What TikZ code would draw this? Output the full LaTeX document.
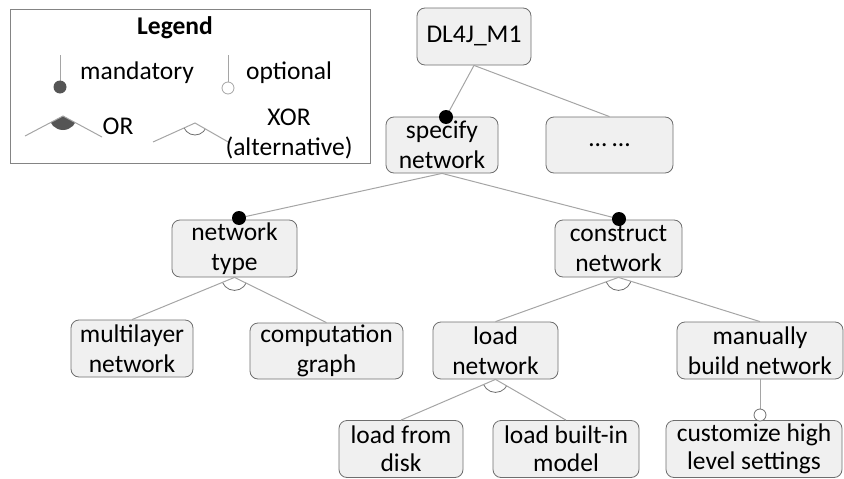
\documentclass[tikz,border=0pt]{standalone}
\usepackage{fontspec}
\setmainfont{Carlito}
\usetikzlibrary{calc}
\definecolor{boxline}{RGB}{110,110,110}
\definecolor{boxfill}{RGB}{240,240,240}
\definecolor{lineg}{RGB}{165,165,165}
\definecolor{legdark}{RGB}{85,85,85}
\definecolor{arcg}{RGB}{110,110,110}
\begin{document}
\begin{tikzpicture}[x=1pt,y=-1pt,
  fbox/.style={draw=boxline, line width=0.8pt, fill=boxfill, rounded corners=8pt, align=center,
    inner sep=0pt, minimum height=57pt, font=\fontsize{25.5}{30.5}\selectfont},
  lowbox/.style={fbox, font=\fontsize{25.5}{28}\selectfont},
  conn/.style={draw=lineg, line width=1pt},
  lgtext/.style={font=\fontsize{25.5}{30.5}\selectfont, inner sep=0pt, align=center},
  mand/.style={fill=black},
  xorarc/.style={draw=arcg, line width=0.8pt}]
\useasboundingbox (0,0) rectangle (844,479);

% ---------- Legend ----------
\draw[draw=lineg!80!black, line width=1pt] (10,9) rectangle (370,163);
\node[lgtext, font=\fontsize{25.5}{30.5}\selectfont\bfseries] (lgtitle) at (175,28) {Legend};
\coordinate (m1) at (60,55); \coordinate (m2) at (60,87);
\draw[conn] (m1) -- (m2);
\fill[legdark] (m2) circle (6.5pt);
\node[lgtext, anchor=west] (lgmand) at (80,73) {mandatory};
\coordinate (o1) at (228,55); \coordinate (o2) at (228,88);
\draw[conn] (o1) -- (o2);
\draw[draw=lineg, fill=white, line width=0.8pt] (o2) circle (6pt);
\node[lgtext, anchor=west] (lgopt) at (246,73) {optional};
% OR
\coordinate (ora) at (63,116); \coordinate (orl) at (25,136); \coordinate (orr) at (102,137);
\begin{scope}
  \clip (ora) -- (orl) -- (orr) -- cycle;
  \fill[legdark] (ora) circle (14pt);
\end{scope}
\draw[conn] (orl) -- (ora) -- (orr);
\node[lgtext] (lgor) at (118,126) {OR};
% XOR
\coordinate (xa) at (195,123); \coordinate (xl) at (153,142); \coordinate (xr) at (230,143);
\begin{scope}
  \clip (xa) -- (xl) -- (xr) -- cycle;
  \draw[xorarc] (xa) circle (12pt);
\end{scope}
\draw[conn] (xl) -- (xa) -- (xr);
\node[lgtext] (lgxor) at (289,134) {XOR\\(alternative)};

% ---------- Nodes ----------
\node[fbox, minimum width=114pt] (dl) at (474,36.5) {DL4J\_M1};
\node[fbox, minimum width=112pt, minimum height=56pt] (spec) at (442,145) {specify\\network};
\node[fbox, minimum width=127pt, minimum height=56pt] (dots) at (609.5,145) {… …};
\node[fbox, minimum width=125pt] (ntype) at (234.5,248.5) {network\\type};
\node[fbox, minimum width=127pt] (cons) at (618.5,248.5) {construct\\network};
\node[fbox, minimum width=122pt] (multi) at (132,348.5) {multilayer\\network};
\node[fbox, minimum width=153pt, minimum height=56pt] (comp) at (326.5,351) {computation\\graph};
\node[fbox, minimum width=125pt] (loadn) at (495.5,350.5) {load\\network};
\node[fbox, minimum width=166pt] (manu) at (760,350.5) {manually\\build network};
\node[lowbox, minimum width=124pt] (disk) at (401,449) {load from\\disk};
\node[lowbox, minimum width=146pt] (builtin) at (566,449) {load built-in\\model};
\node[lowbox, minimum width=176pt] (cust) at (754,449) {customize high\\level settings};

% ---------- Connectors ----------
\coordinate (dspec) at (446,117);
\coordinate (dntype) at (239,218);
\coordinate (dcons) at (619,219);
\draw[conn] (dl.south) -- (dspec);
\draw[conn] (dl.south) -- (dots.north);
\fill[mand] (dspec) circle (7pt);

\draw[conn] (spec.south) -- (dntype);
\draw[conn] (spec.south) -- (dcons);
\fill[mand] (dntype) circle (7pt);
\fill[mand] (dcons) circle (7pt);

% XOR groups
\foreach \p/\a/\b in {ntype/multi/comp, cons/loadn/manu, loadn/disk/builtin}{
  \begin{scope}
    \clip (\p.south) -- (\a.north) -- (\b.north) -- cycle;
    \draw[xorarc] (\p.south) circle (13pt);
  \end{scope}
  \draw[conn] (\p.south) -- (\a.north);
  \draw[conn] (\p.south) -- (\b.north);
}

% optional
\coordinate (ocust) at (760,415);
\draw[conn] (manu.south) -- (ocust);
\draw[draw=boxline, fill=white, line width=0.8pt] (ocust) circle (6pt);
\end{tikzpicture}
\end{document}
